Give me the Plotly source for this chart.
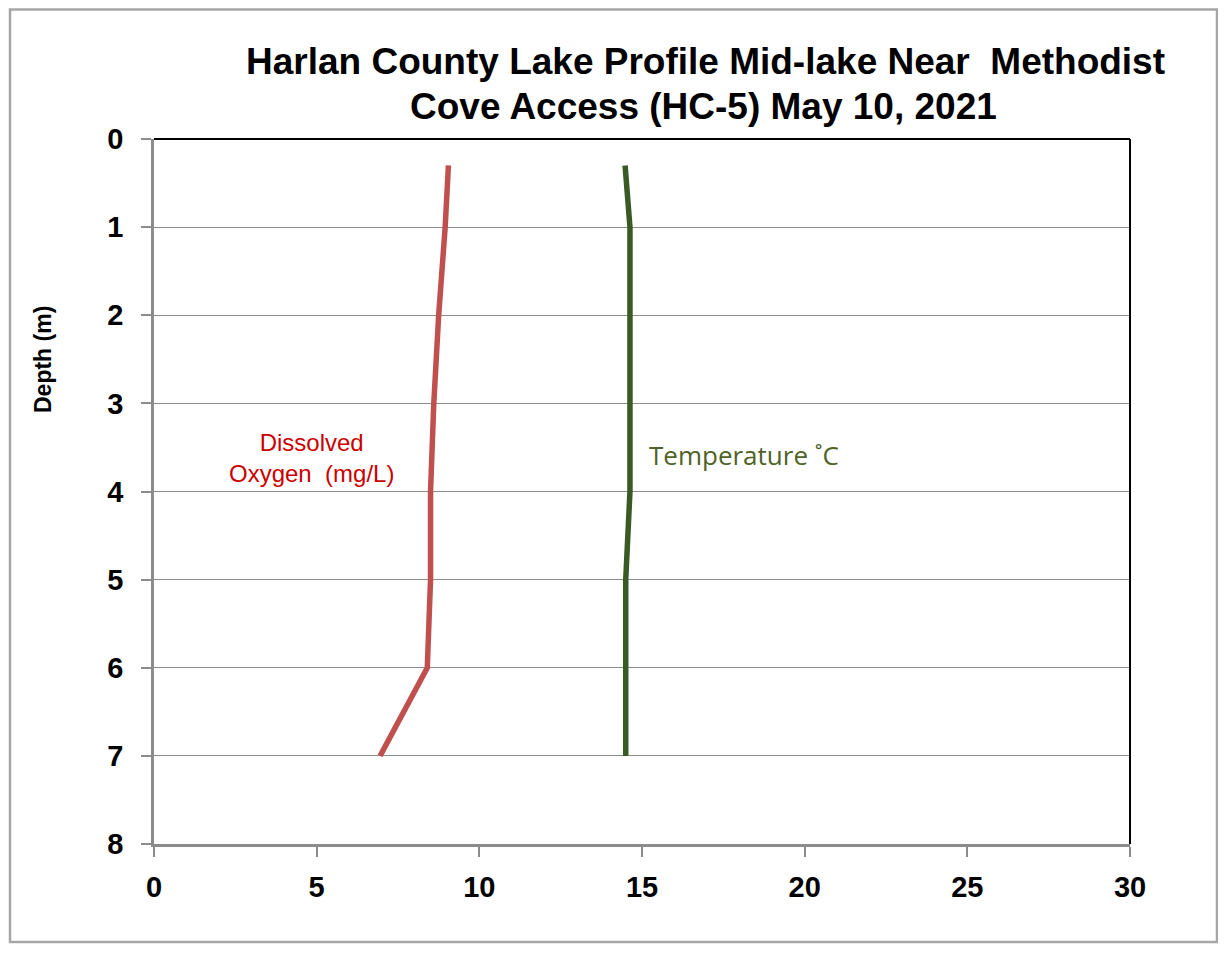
import plotly.graph_objects as go

depth = [0.3, 1, 2, 3, 4, 5, 6, 7]
dissolved_oxygen = [9.05, 8.95, 8.75, 8.6, 8.5, 8.5, 8.4, 6.95]
temperature = [14.48, 14.63, 14.63, 14.63, 14.63, 14.5, 14.5, 14.5]

x_ticks = [0, 5, 10, 15, 20, 25, 30]
y_ticks = [0, 1, 2, 3, 4, 5, 6, 7, 8]

title_lines = ["Harlan County Lake Profile Mid-lake Near  Methodist",
               "Cove Access (HC-5) May 10, 2021"]

# page has an 8px body margin; work in page pixel coords and shift
OFF = 8
FW, FH = 1210, 941
PL, PR, PT, PB = 154, 1130, 139, 844  # plot area in page pixels
L, R, T, B = PL - OFF, FW - (PR - OFF), PT - OFF, FH - (PB - OFF)
W, H = PR - PL, PB - PT


def px_x(p):
    return (p - PL) / W


def px_y(p):
    return (PB - p) / H


fig = go.Figure()
fig.add_trace(go.Scatter(x=dissolved_oxygen, y=depth, mode="lines",
                         line=dict(color="#C0504D", width=5.5),
                         name="Dissolved Oxygen (mg/L)", showlegend=False))
fig.add_trace(go.Scatter(x=temperature, y=depth, mode="lines",
                         line=dict(color="#3A5A24", width=5.5),
                         name="Temperature", showlegend=False))

tick_font = dict(size=29, family="Liberation Sans, Arial", weight="bold", color="black")
fig.update_layout(
    width=FW, height=FH,
    margin=dict(l=L, r=R, t=T, b=B),
    paper_bgcolor="white", plot_bgcolor="white",
    showlegend=False,
    font=dict(family="Liberation Sans, Arial", color="black"),
    xaxis=dict(range=[0, 30], tickvals=x_ticks, showgrid=False, zeroline=False,
               showline=True, linecolor="#8C8C8C", linewidth=2.5,
               ticks="outside", ticklen=10, tickcolor="#8C8C8C", tickwidth=1.5,
               tickfont=tick_font, ticklabelstandoff=5),
    yaxis=dict(range=[8, 0], tickvals=y_ticks, showgrid=True, gridcolor="#8C8C8C",
               gridwidth=1.3, zeroline=False,
               showline=True, linecolor="#8C8C8C", linewidth=2.5,
               ticks="outside", ticklen=10, tickcolor="#8C8C8C", tickwidth=1.5,
               tickfont=tick_font, ticklabelstandoff=12),
)

# top and right plot border
fig.add_shape(type="line", xref="paper", yref="paper", x0=0, x1=1, y0=1, y1=1,
              line=dict(color="black", width=2))
fig.add_shape(type="line", xref="paper", yref="paper", x0=1, x1=1, y0=0, y1=1,
              line=dict(color="black", width=2))
# outer chart border
fig.add_shape(type="rect", xref="paper", yref="paper",
              x0=px_x(10), x1=px_x(1217), y0=px_y(942), y1=px_y(9.5),
              line=dict(color="#A6A6A6", width=2.5), fillcolor="rgba(0,0,0,0)", layer="below")

# title (two lines placed individually)
title_font = dict(size=37, family="Liberation Sans, Arial", weight="bold", color="black")
fig.add_annotation(xref="paper", yref="paper", x=px_x(705), y=px_y(62),
                   text=title_lines[0], showarrow=False,
                   xanchor="center", yanchor="middle", font=title_font)
fig.add_annotation(xref="paper", yref="paper", x=px_x(703), y=px_y(106),
                   text=title_lines[1], showarrow=False,
                   xanchor="center", yanchor="middle", font=title_font)
# y-axis title
fig.add_annotation(xref="paper", yref="paper", x=px_x(43), y=px_y(360),
                   text="Depth (m)", showarrow=False, textangle=-90,
                   xanchor="center", yanchor="middle",
                   font=dict(size=23, family="Liberation Sans, Arial",
                             weight="bold", color="black"))
# series labels
fig.add_annotation(x=4.83, y=3.62, text="Dissolved<br>Oxygen  (mg/L)", showarrow=False,
                   xanchor="center", yanchor="middle", align="center",
                   font=dict(size=24, family="Liberation Sans, Arial", color="#CC0000"))
fig.add_annotation(x=15.16, y=3.59, text="Temperature ˚C", showarrow=False,
                   xanchor="left", yanchor="middle", align="left",
                   font=dict(size=26, family="Open Sans, Liberation Sans", color="#4F6228"))

fig.write_html("out.html")
